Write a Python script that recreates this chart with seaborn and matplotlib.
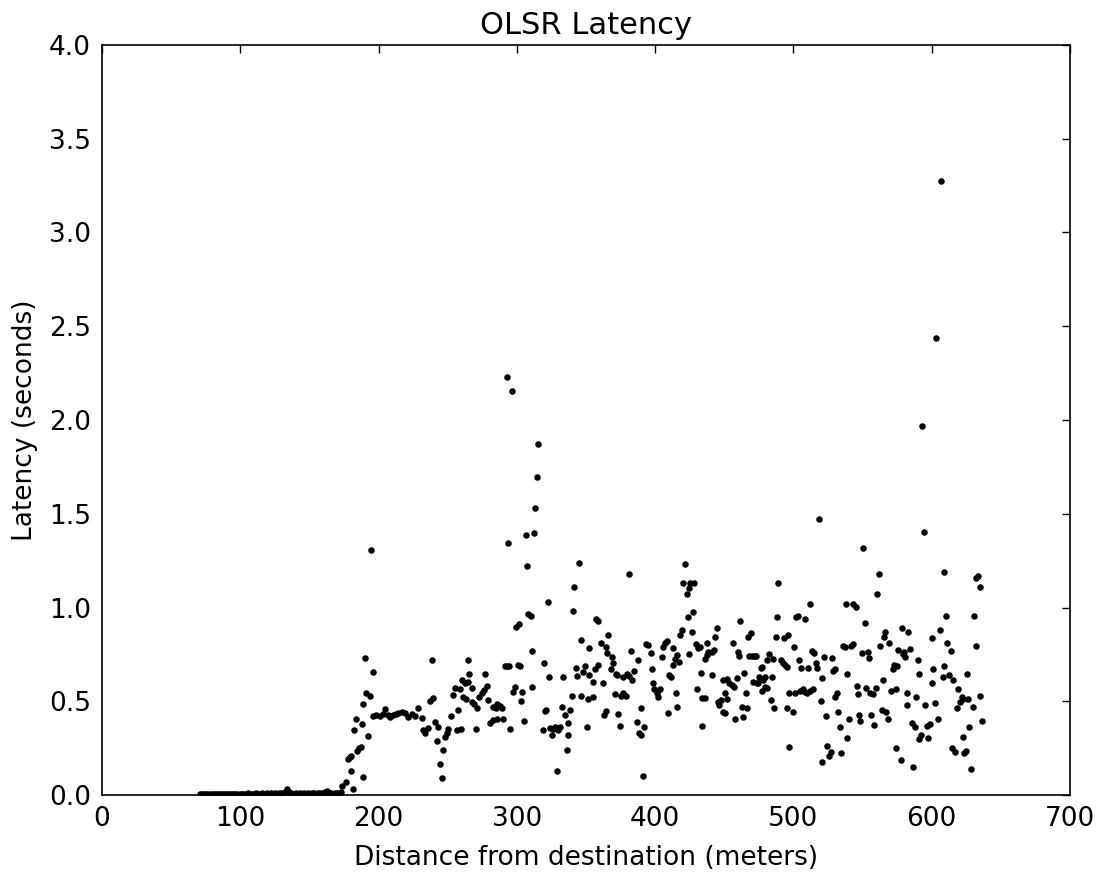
import matplotlib
matplotlib.use("Agg")
import matplotlib.pyplot as plt
import seaborn as sns
import pandas as pd

# Nodes within direct radio range: latency stays close to zero
near_distance = [
    71.0, 72.5, 74.0, 75.5, 77.0, 78.5, 80.0, 81.5, 83.0, 84.5, 86.0, 87.5,
    89.0, 90.5, 92.0, 93.5, 95.0, 96.5, 98.0, 99.5, 101.0, 102.5, 104.0, 105.5,
    107.0, 108.5, 110.0, 111.5, 113.0, 114.5, 116.0, 117.5, 119.0, 120.5, 122.0,
    123.5, 125.0, 126.5, 128.0, 129.5, 131.0, 132.5, 134.0, 135.5, 137.0, 138.5,
    140.0, 141.5, 143.0, 144.5, 146.0, 147.5, 149.0, 150.5, 152.0, 153.5, 155.0,
    156.5, 158.0, 159.5, 161.0, 162.5, 164.0, 165.5, 167.0, 168.5, 170.0, 171.5,
    173.0,
]
near_latency = [
    0.003, 0.004, 0.003, 0.005, 0.004, 0.003, 0.005, 0.004, 0.006, 0.004, 0.005, 0.004,
    0.006, 0.005, 0.004, 0.006, 0.005, 0.007, 0.005, 0.006, 0.008, 0.006, 0.007, 0.009,
    0.006, 0.008, 0.007, 0.009, 0.006, 0.008, 0.010, 0.007, 0.009, 0.008, 0.010,
    0.007, 0.009, 0.008, 0.010, 0.012, 0.009, 0.016, 0.030, 0.014, 0.009, 0.008,
    0.010, 0.007, 0.009, 0.008, 0.010, 0.007, 0.009, 0.008, 0.010, 0.009, 0.008,
    0.010, 0.009, 0.012, 0.018, 0.024, 0.012, 0.009, 0.008, 0.010, 0.009, 0.011,
    0.014,
]

# Transition zone where routes start needing multiple hops
edge_distance = [
    173.8, 176.4, 181.3, 179.8, 189.0, 177.7, 179.3, 180.3, 184.2, 185.9, 187.1,
    182.0, 183.4, 187.9, 192.6, 189.0, 190.9, 193.8, 189.9, 195.7, 194.5,
    196.2, 198.5, 200.8, 203.0, 204.7, 206.5, 208.3, 210.7, 212.5, 214.3, 216.7,
    219.1, 221.5, 223.9, 226.3, 228.8, 231.2,
]
edge_latency = [
    0.048, 0.072, 0.030, 0.130, 0.098, 0.190, 0.204, 0.210, 0.236, 0.249, 0.258,
    0.347, 0.404, 0.379, 0.313, 0.488, 0.546, 0.528, 0.729, 0.654, 1.305,
    0.421, 0.425, 0.420, 0.430, 0.457, 0.428, 0.418, 0.427, 0.432, 0.439, 0.444,
    0.436, 0.418, 0.430, 0.421, 0.462, 0.409,
]

# Multi-hop routes, 230-355 m
mid_distance = [
    232.4, 233.6, 236.0, 238.4, 237.2, 239.6, 240.8, 243.2, 242.0, 246.3, 244.4,
    245.6, 248.0, 249.2, 250.4, 252.1, 253.6, 255.3, 258.9, 257.7, 256.5, 259.4,
    260.1, 262.5, 264.9, 261.3, 263.0, 264.7, 265.6, 267.3, 267.8, 269.0, 271.4,
    270.4, 272.9, 274.5, 276.5, 278.2, 277.2, 279.4, 280.6, 282.5, 283.0, 285.4,
    287.8, 289.0, 284.9, 285.9, 290.2, 295.0, 291.4, 293.1, 294.6, 297.4, 298.6,
    299.4, 301.8, 293.8, 300.6, 302.0, 303.5, 303.0, 305.2, 306.4, 312.4, 307.6,
    313.1, 308.3, 310.0, 310.7, 310.7, 319.1, 319.9, 320.3, 321.0, 322.3, 323.5,
    324.0, 325.9, 327.6, 330.0, 331.2, 325.2, 328.8, 332.4, 333.6, 334.8, 336.0,
    336.7, 337.2, 338.4, 339.6, 340.4, 341.6, 344.9, 342.8, 343.7, 346.1, 346.1,
    347.6, 349.3, 350.5, 351.7, 352.4, 352.4,
    292.9, 296.3, 315.5, 314.3,
]
mid_latency = [
    0.347, 0.332, 0.359, 0.720, 0.501, 0.519, 0.391, 0.364, 0.290, 0.240, 0.164,
    0.089, 0.311, 0.329, 0.350, 0.421, 0.533, 0.569, 0.564, 0.453, 0.347, 0.350,
    0.613, 0.599, 0.604, 0.524, 0.510, 0.720, 0.645, 0.569, 0.498, 0.485, 0.462,
    0.354, 0.524, 0.542, 0.560, 0.581, 0.645, 0.507, 0.382, 0.400, 0.471, 0.485,
    0.475, 0.462, 0.462, 0.404, 0.404, 0.354, 0.688, 0.688, 0.688, 0.551, 0.578,
    0.898, 0.912, 1.346, 0.693, 0.688, 0.551, 0.503, 0.396, 1.387, 1.396, 1.221,
    1.529, 0.964, 0.955, 0.770, 0.578, 0.347, 0.702, 0.448, 0.453, 1.028, 0.631,
    0.356, 0.350, 0.361, 0.347, 0.361, 0.320, 0.130, 0.471, 0.631, 0.427, 0.240,
    0.386, 0.320, 0.453, 0.528, 0.980, 1.111, 1.236, 0.676, 0.635, 0.827, 0.528,
    0.658, 0.688, 0.364, 0.510, 0.782, 0.640,
    2.228, 2.153, 1.870, 1.694,
]

# Multi-hop routes, 355-500 m
far_distance = [
    357.2, 358.7, 355.3, 356.5, 354.8, 358.9, 360.6, 362.1, 363.0, 364.5, 364.8,
    365.4, 366.2, 367.8, 368.6, 369.8, 371.0, 371.7, 372.7, 373.4, 374.6, 375.3,
    377.0, 379.0, 376.5, 379.4, 381.3, 383.0, 385.0, 381.1, 382.3, 386.6, 387.9,
    389.5, 388.6, 389.8, 392.2, 391.0, 393.4, 395.1, 396.8, 398.0, 398.7, 399.2,
    401.1, 402.3, 403.5, 404.7, 405.9, 407.1, 408.3, 409.3, 410.3, 411.2, 412.7,
    413.2, 414.4, 416.1, 417.3, 415.1, 416.1, 418.0, 419.2, 420.4, 421.8, 425.2,
    428.3, 422.8, 424.7, 424.0, 427.1, 424.7, 426.4, 429.6, 431.2, 432.4, 430.5,
    432.9, 434.1, 436.1, 434.1, 436.1, 437.3, 438.5, 440.9, 442.6, 437.3, 440.9,
    443.3, 444.5, 445.7, 447.4, 446.4, 448.8, 450.5, 449.3, 451.7, 453.7, 455.3,
    457.0, 450.5, 452.2, 456.1, 457.8, 463.3, 459.0, 460.2, 460.6, 461.4, 462.6,
    466.7, 464.5, 465.7, 467.4, 469.1, 468.1, 469.8, 471.5, 472.9, 471.0, 473.4,
    474.6, 476.3, 477.0, 475.4, 478.2, 479.4, 477.3, 479.8, 481.1, 480.7, 482.6,
    485.5, 484.3, 483.5, 486.0, 487.4, 487.9, 489.1, 490.8, 492.2, 493.9, 495.1,
    493.2, 496.3, 495.1, 497.0, 497.0,
]
far_latency = [
    0.937, 0.930, 0.604, 0.670, 0.521, 0.693, 0.812, 0.596, 0.427, 0.450, 0.791,
    0.759, 0.853, 0.670, 0.738, 0.702, 0.539, 0.645, 0.640, 0.430, 0.370, 0.528,
    0.546, 0.528, 0.631, 0.645, 0.635, 0.613, 0.663, 1.179, 0.770, 0.388, 0.720,
    0.462, 0.332, 0.320, 0.361, 0.103, 0.805, 0.800, 0.756, 0.670, 0.596, 0.564,
    0.546, 0.521, 0.564, 0.738, 0.791, 0.809, 0.823, 0.439, 0.640, 0.631, 0.782,
    0.693, 0.724, 0.747, 0.711, 0.546, 0.471, 0.853, 0.880, 1.129, 1.230, 1.129,
    1.129, 1.070, 1.102, 0.951, 0.978, 0.752, 0.871, 0.805, 0.782, 0.791, 0.564,
    0.652, 0.519, 0.519, 0.370, 0.724, 0.747, 0.765, 0.765, 0.773, 0.812, 0.640,
    0.844, 0.889, 0.498, 0.507, 0.480, 0.444, 0.436, 0.613, 0.617, 0.599, 0.587,
    0.578, 0.546, 0.510, 0.812, 0.404, 0.414, 0.622, 0.765, 0.741, 0.930, 0.471,
    0.462, 0.649, 0.546, 0.844, 0.862, 0.741, 0.741, 0.741, 0.741, 0.604, 0.599,
    0.596, 0.676, 0.684, 0.631, 0.613, 0.631, 0.555, 0.574, 0.569, 0.720, 0.752,
    0.724, 0.631, 0.507, 0.462, 0.844, 0.948, 1.129, 0.720, 0.702, 0.693, 0.684,
    0.836, 0.853, 0.462, 0.546, 0.254,
]

# Multi-hop routes, 500-640 m
outer_distance = [
    499.4, 500.4, 501.1, 501.8, 503.5, 504.2, 505.2, 504.7, 506.7, 508.3, 510.0,
    512.0, 513.9, 508.3, 510.8, 512.0, 513.2, 514.9, 516.3, 517.3, 518.7, 519.7,
    520.9, 520.9, 522.1, 523.5, 524.5, 525.9, 526.9, 527.6, 528.8, 530.0, 530.3,
    531.2, 532.5, 533.7, 534.4, 535.6, 537.3, 538.0, 543.3, 545.0, 539.0, 539.0,
    540.4, 541.4, 542.8, 545.7, 546.9, 547.6, 548.1, 549.3, 550.0, 551.7, 552.5,
    554.1, 554.9, 555.3, 557.3, 555.8, 558.2, 559.7, 560.7, 561.6, 562.6, 564.0,
    566.9, 565.0, 565.5, 566.2, 568.4, 569.3, 570.8, 574.2, 571.7, 573.0, 575.1,
    574.2, 575.8, 579.0, 580.7, 577.5, 578.5, 583.1, 579.9, 581.9, 581.9, 584.3,
    585.5, 587.9, 586.7, 588.6, 589.8, 591.0, 591.0, 592.0, 594.2, 595.1, 596.3,
    598.7, 597.5, 599.9, 599.9, 601.1, 602.4, 604.8, 606.0, 607.9, 608.9, 608.9,
    610.3, 611.3, 613.7, 612.7, 615.6, 614.4, 616.8, 618.0, 619.2, 620.4, 621.6,
    622.8, 622.4, 623.3, 624.8, 625.7, 626.5, 627.2, 628.1, 629.6, 630.6, 631.8,
    632.0, 633.7, 634.9, 634.9, 636.1,
    606.7, 603.3, 593.2,
]
outer_latency = [
    0.444, 0.788, 0.546, 0.948, 0.955, 0.720, 0.679, 0.556, 0.564, 0.551, 0.546,
    0.556, 0.564, 0.937, 0.679, 1.019, 0.770, 0.756, 0.702, 0.679, 1.470, 0.503,
    0.622, 0.178, 0.738, 0.421, 0.261, 0.208, 0.231, 0.729, 0.663, 0.670, 0.521,
    0.546, 0.444, 0.364, 0.222, 0.795, 0.788, 1.019, 1.019, 1.004, 0.645, 0.306,
    0.404, 0.795, 0.805, 0.581, 0.539, 0.427, 0.396, 0.756, 1.319, 0.919, 0.569,
    0.765, 0.729, 0.546, 0.539, 0.427, 0.373, 0.569, 1.070, 1.179, 0.795, 0.453,
    0.444, 0.613, 0.844, 0.871, 0.404, 0.812, 0.556, 0.564, 0.670, 0.693, 0.688,
    0.249, 0.773, 0.752, 0.734, 0.187, 0.889, 0.871, 0.765, 0.546, 0.480, 0.779,
    0.386, 0.361, 0.148, 0.521, 0.720, 0.645, 0.297, 0.320, 1.403, 0.480, 0.368,
    0.379, 0.306, 0.839, 0.596, 0.670, 0.489, 0.404, 0.880, 0.631, 1.188, 0.690,
    0.955, 0.812, 0.770, 0.640, 0.613, 0.249, 0.231, 0.462, 0.564, 0.498, 0.521,
    0.510, 0.311, 0.222, 0.236, 0.645, 0.510, 0.361, 0.137, 0.471, 0.955, 0.795,
    1.156, 1.168, 1.111, 0.528, 0.396,
    3.276, 2.436, 1.970,
]

df = pd.DataFrame({
    "distance": near_distance + edge_distance + mid_distance + far_distance + outer_distance,
    "latency": near_latency + edge_latency + mid_latency + far_latency + outer_latency,
})

sns.set_style("white")
plt.rcParams["font.family"] = ["DejaVu Sans"]
plt.rcParams["text.color"] = "black"
plt.rcParams["axes.labelcolor"] = "black"

fig = plt.figure(figsize=(11, 8.73), dpi=100)
ax = fig.add_axes([0.0927, 0.0893, 0.88, 0.8592])

sns.scatterplot(data=df, x="distance", y="latency", color="black", s=22,
                linewidth=0, legend=False, ax=ax)

ax.set_xlim(0, 700)
ax.set_ylim(0, 4.0)
ax.set_xticks(range(0, 701, 100))
ax.set_yticks([0.0, 0.5, 1.0, 1.5, 2.0, 2.5, 3.0, 3.5, 4.0])
ax.yaxis.set_major_formatter("{x:.1f}")

ax.tick_params(direction="in", top=True, right=True, length=5.5, width=1,
               labelsize=19, pad=8, colors="black")
for spine in ax.spines.values():
    spine.set_visible(True)
    spine.set_color("black")
    spine.set_linewidth(1.2)

ax.set_title("OLSR Latency", fontsize=22, pad=8, color="black")
ax.set_xlabel("Distance from destination (meters)", fontsize=19, labelpad=9)
ax.set_ylabel("Latency (seconds)", fontsize=19, labelpad=8)

fig.savefig("out.png", dpi=100)
